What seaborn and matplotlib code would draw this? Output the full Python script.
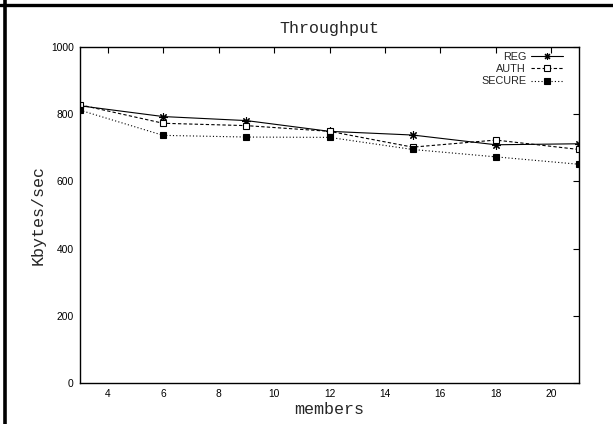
import matplotlib
matplotlib.use("Agg")
import matplotlib.pyplot as plt
import seaborn as sns
import pandas as pd
from matplotlib.lines import Line2D

members = [3, 6, 9, 12, 15, 18, 21]
reg = [825, 793, 781, 749, 738, 709, 712]
auth = [828, 773, 766, 749, 702, 723, 695]
secure = [812, 737, 732, 731, 695, 673, 651]
series_names = ["REG", "AUTH", "SECURE"]
xticks = [4, 6, 8, 10, 12, 14, 16, 18, 20]
yticks = [0, 200, 400, 600, 800, 1000]

sns.set_theme(style="white")
plt.rcParams['font.family'] = ['Liberation Sans', 'DejaVu Sans']

df = pd.DataFrame({
    "members": members * 3,
    "value": reg + auth + secure,
    "series": sum([[n] * len(members) for n in series_names], []),
})

fig = plt.figure(figsize=(6.13, 4.24), dpi=100)
L, R, T, B = 80, 579, 47, 383
ax = fig.add_axes([L / 613, (424 - B) / 424, (R - L) / 613, (B - T) / 424])

styles = {
    "REG": dict(linestyle="-", marker=(8, 2, 0), markersize=6, mfc="black", mew=0.8),
    "AUTH": dict(linestyle=(0, (3, 2)), marker="s", markersize=5, mfc="white", mew=0.8),
    "SECURE": dict(linestyle=(0, (1, 2)), marker="s", markersize=5, mfc="black", mew=0.8),
}
for name in series_names:
    sub = df[df["series"] == name]
    st = styles[name]
    sns.lineplot(data=sub, x="members", y="value", ax=ax, color="black",
                 linewidth=0.8, linestyle=st["linestyle"], marker=st["marker"],
                 markersize=st["markersize"], markerfacecolor=st["mfc"],
                 markeredgecolor="black", markeredgewidth=st["mew"], label=name,
                 legend=False)

ax.set_xlim(3, 21)
ax.set_ylim(0, 1000)
ax.set_xticks(xticks)
ax.set_yticks(yticks)
ax.tick_params(direction="in", length=4, width=0.8, top=True, right=True,
               labelsize=7.4, colors="black", pad=4.5)
for sp in ax.spines.values():
    sp.set_color("black")
    sp.set_linewidth(1.0)

mono = ['Liberation Mono', 'DejaVu Sans Mono']
ax.set_title("Throughput", family=mono, fontsize=12, pad=10)
ax.set_xlabel("members", family=mono, fontsize=12, labelpad=2)
ax.set_ylabel("Kbytes/sec", family=mono, fontsize=12, labelpad=4)

handles = []
for name in series_names:
    st = styles[name]
    handles.append(Line2D([], [], color="black", linewidth=0.8, linestyle=st["linestyle"],
                          marker=st["marker"], markersize=st["markersize"] - 1,
                          markerfacecolor=st["mfc"], markeredgecolor="black",
                          markeredgewidth=st["mew"]))
ax.legend(handles, series_names, loc="upper right", frameon=False, markerfirst=False,
          fontsize=7.8, handlelength=3.0, handletextpad=0.4, labelspacing=0.2,
          borderaxespad=0.0, borderpad=0.0,
          bbox_to_anchor=((563 - L) / (R - L), 1 - (52 - T) / (B - T)))

# figure frame lines (left and top)
fig.add_artist(Line2D([4.5 / 613, 4.5 / 613], [0, 1], transform=fig.transFigure,
                      color="black", linewidth=2.6))
fig.add_artist(Line2D([0, 1], [1 - 5 / 424, 1 - 5 / 424], transform=fig.transFigure,
                      color="black", linewidth=2.4))

fig.savefig("out.png", dpi=100)
